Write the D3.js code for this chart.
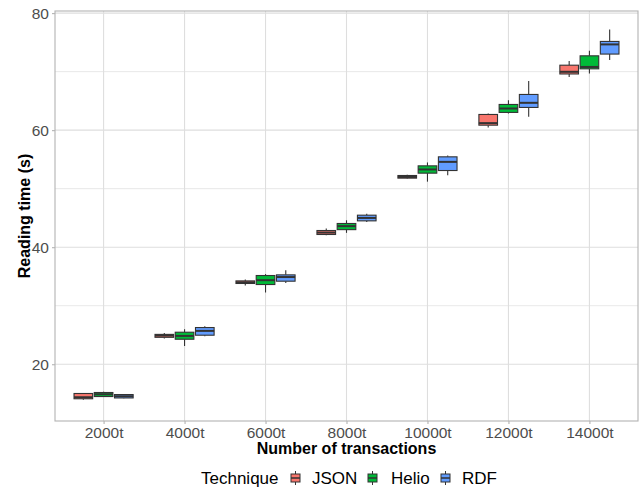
<!DOCTYPE html>
<html><head><meta charset="utf-8">
<script src="https://cdn.jsdelivr.net/npm/d3@7"></script>
<style>body{margin:0;background:#fff}svg{display:block}text{font-family:"Liberation Sans",Arial,sans-serif}</style>
</head><body><svg id="c" width="640" height="491"></svg>
<script>
const categories = ["2000t","4000t","6000t","8000t","10000t","12000t","14000t"];
const techniques = ["JSON","Helio","RDF"];
const colors = ["#F8766D","#00BA38","#619CFF"];
// each entry: [lower whisker, Q1, median, Q3, upper whisker]
const jsonStats = [
  [13.95,14.1,14.36,15.0,15.05],
  [24.4,24.6,24.9,25.1,25.35],
  [33.45,33.8,34.0,34.24,34.47],
  [42.05,42.17,42.5,42.85,43.2],
  [51.7,51.8,52.0,52.25,52.4],
  [60.46,60.85,61.2,62.68,62.85],
  [69.1,69.6,69.97,71.1,71.8]
];
const helioStats = [
  [14.4,14.48,14.87,15.17,15.3],
  [23.1,24.27,24.84,25.47,25.98],
  [32.26,33.62,34.36,35.16,35.4],
  [42.45,43.0,43.6,44.05,44.6],
  [51.2,52.65,53.28,53.9,54.48],
  [62.85,63.03,63.7,64.39,65.13],
  [69.7,70.48,70.8,72.7,73.56]
];
const rdfStats = [
  [14.2,14.24,14.53,14.82,14.9],
  [24.8,24.96,25.7,26.27,26.5],
  [33.9,34.19,34.9,35.27,36.07],
  [44.3,44.5,45.0,45.47,45.7],
  [52.3,53.1,54.58,55.44,55.68],
  [62.27,63.88,64.67,66.1,68.38],
  [71.97,73.0,74.65,75.16,77.2]
];
const yTicks = [20,40,60,80];
const yMinor = [30,50,70];
const allStats = [jsonStats, helioStats, rdfStats];

const svg = d3.select("#c");
const L = 55, R = 638, T = 11, B = 421;
const x = d3.scalePoint().domain(categories).range([L,R]).padding(0.6);
const step = x.step();
const y = d3.scaleLinear().domain([10.3,80.36]).range([B,T]);

// grid
const g = svg.append("g");
g.selectAll(".mn").data(yMinor).enter().append("line")
  .attr("x1",L).attr("x2",R).attr("y1",d=>y(d)).attr("y2",d=>y(d))
  .attr("stroke","#DEDEDE").attr("stroke-width",0.7);
g.selectAll(".mj").data(yTicks).enter().append("line")
  .attr("x1",L).attr("x2",R).attr("y1",d=>y(d)).attr("y2",d=>y(d))
  .attr("stroke","#DEDEDE").attr("stroke-width",1.1);
g.selectAll(".vx").data(categories).enter().append("line")
  .attr("x1",d=>x(d)).attr("x2",d=>x(d)).attr("y1",T).attr("y2",B)
  .attr("stroke","#DEDEDE").attr("stroke-width",1.1);

// boxes
const off = step*0.25, bw = step*0.23;
allStats.forEach((stats,ti)=>{
  const gg = svg.append("g");
  stats.forEach((s,ci)=>{
    const cx = x(categories[ci]) + (ti-1)*off;
    gg.append("line").attr("x1",cx).attr("x2",cx).attr("y1",y(s[4])).attr("y2",y(s[3]))
      .attr("stroke","#333").attr("stroke-width",1.1);
    gg.append("line").attr("x1",cx).attr("x2",cx).attr("y1",y(s[1])).attr("y2",y(s[0]))
      .attr("stroke","#333").attr("stroke-width",1.1);
    gg.append("rect").attr("x",cx-bw/2).attr("width",bw)
      .attr("y",y(s[3])).attr("height",y(s[1])-y(s[3]))
      .attr("fill",colors[ti]).attr("stroke","#333").attr("stroke-width",1.1);
    gg.append("line").attr("x1",cx-bw/2).attr("x2",cx+bw/2).attr("y1",y(s[2])).attr("y2",y(s[2]))
      .attr("stroke","#333").attr("stroke-width",2);
  });
});

// border
svg.append("rect").attr("x",L).attr("y",T).attr("width",R-L).attr("height",B-T)
  .attr("fill","none").attr("stroke","#B3B3B3").attr("stroke-width",1.1);

// axes
const ya = svg.append("g").attr("transform",`translate(${L},0)`)
  .call(d3.axisLeft(y).tickValues(yTicks).tickSize(3).tickPadding(3));
const xa = svg.append("g").attr("transform",`translate(0,${B})`)
  .call(d3.axisBottom(x).tickSize(3).tickPadding(3));
[ya,xa].forEach(a=>{
  a.select(".domain").remove();
  a.selectAll(".tick line").attr("stroke","#B3B3B3").attr("stroke-width",1.1);
  a.selectAll(".tick text").attr("fill","#4D4D4D").style("font-size","15.5px")
   .style("font-family","'Liberation Sans',Arial,sans-serif");
});
xa.selectAll(".tick text").attr("dy","0.71em");

svg.append("text").attr("x",(L+R)/2).attr("y",454).attr("text-anchor","middle")
  .style("font-size","16px").style("font-weight","bold").attr("fill","#000")
  .text("Number of transactions");
svg.append("text").attr("transform",`translate(30,${(T+B)/2}) rotate(-90)`).attr("text-anchor","middle")
  .style("font-size","16px").style("font-weight","bold").attr("fill","#000")
  .text("Reading time (s)");

// legend
const lg = svg.append("g");
lg.append("text").attr("x",201).attr("y",484).style("font-size","17px").attr("fill","#000").text("Technique");
const keyX = [295.5,372.5,445.5], labX = [312,391,462];
techniques.forEach((t,i)=>{
  const kx = keyX[i], ky = 478;
  lg.append("line").attr("x1",kx).attr("x2",kx).attr("y1",ky-7).attr("y2",ky+7).attr("stroke","#333").attr("stroke-width",1);
  lg.append("rect").attr("x",kx-4.5).attr("y",ky-4).attr("width",9).attr("height",8)
    .attr("fill",colors[i]).attr("stroke","#333").attr("stroke-width",1);
  lg.append("line").attr("x1",kx-4.5).attr("x2",kx+4.5).attr("y1",ky).attr("y2",ky).attr("stroke","#333").attr("stroke-width",1.5);
  lg.append("text").attr("x",labX[i]).attr("y",484).style("font-size","17px").attr("fill","#000").text(t);
});
</script></body></html>
